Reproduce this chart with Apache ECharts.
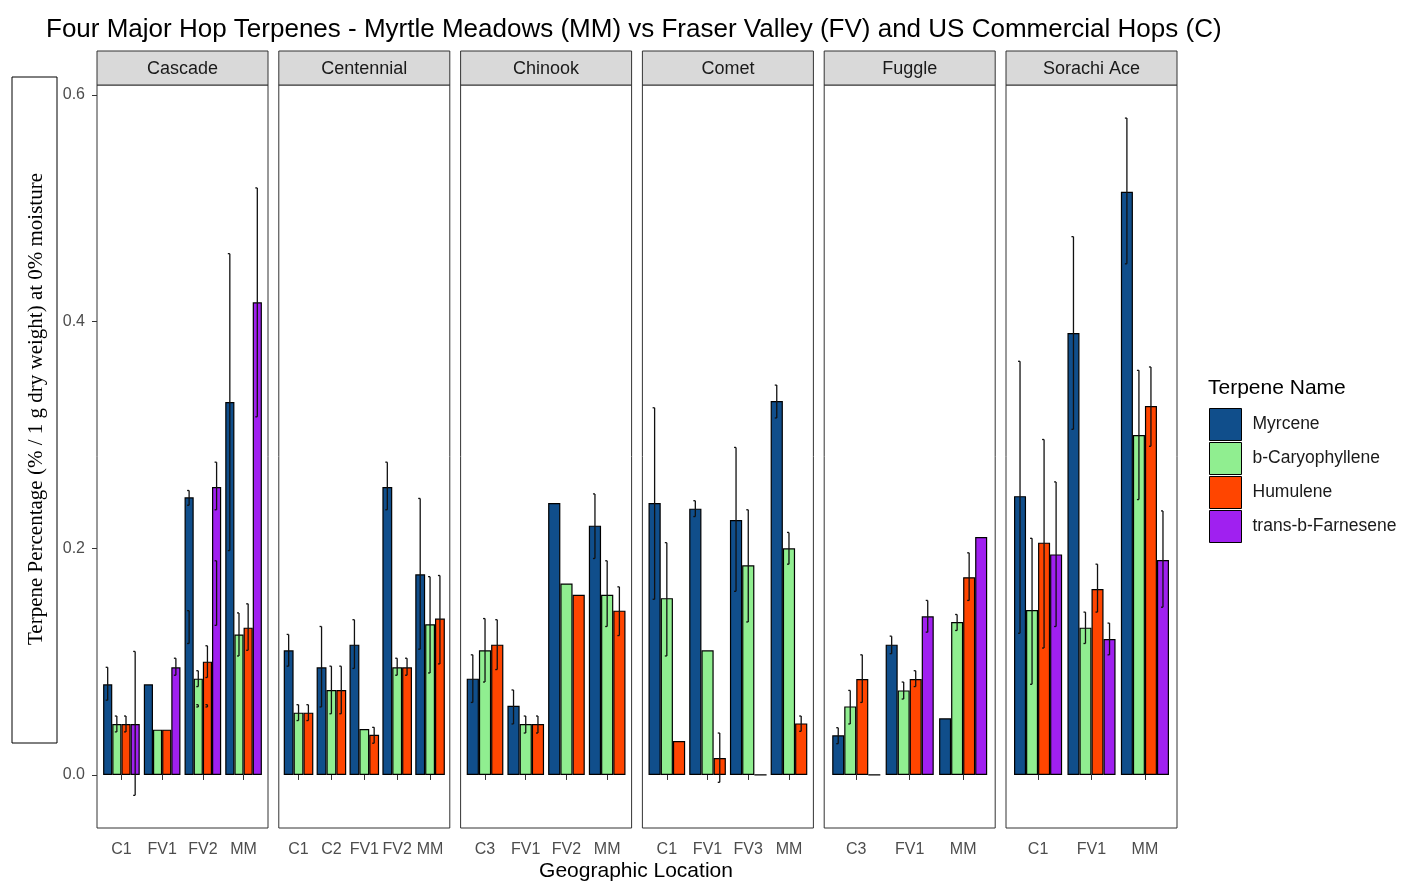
<!DOCTYPE html>
<html><head><meta charset="utf-8">
<script src="https://cdn.jsdelivr.net/npm/echarts@6/dist/echarts.min.js"></script>
<style>html,body{margin:0;padding:0;background:#fff}#c{width:1403px;height:882px}</style>
</head><body><div id="c"></div>
<script>
// ---------- DATA ----------
const terpenes = ['Myrcene', 'b-Caryophyllene', 'Humulene', 'trans-b-Farnesene'];
const yTickValues = [0, 0.2, 0.4, 0.6];

// error rows: [categoryIndex, terpeneIndex, low, high]
const cascadeCats = ['C1', 'FV1', 'FV2', 'MM'];
const cascadeMyrcene = [0.080, 0.080, 0.245, 0.329];
const cascadeCaryophyllene = [0.045, 0.040, 0.085, 0.124];
const cascadeHumulene = [0.045, 0.040, 0.100, 0.130];
const cascadeFarnesene = [0.045, 0.095, 0.254, 0.417];
const cascadeErr = [[0,0,0.066,0.095],[0,1,0.038,0.052],[0,2,0.038,0.052],[0,3,-0.018,0.109],
  [1,3,0.088,0.103],[2,0,0.238,0.251],[2,0,0.116,0.145],[2,1,0.078,0.092],[2,1,0.060,0.062],
  [2,2,0.086,0.114],[2,2,0.060,0.062],[2,3,0.234,0.276],[2,3,0.132,0.189],
  [3,0,0.198,0.460],[3,1,0.105,0.143],[3,2,0.110,0.151],[3,3,0.316,0.518]];

const centennialCats = ['C1', 'C2', 'FV1', 'FV2', 'MM'];
const centennialMyrcene = [0.110, 0.095, 0.115, 0.254, 0.177];
const centennialCaryophyllene = [0.055, 0.075, 0.0405, 0.095, 0.133];
const centennialHumulene = [0.055, 0.075, 0.0355, 0.095, 0.138];
const centennialErr = [[0,0,0.096,0.124],[0,1,0.048,0.062],[0,2,0.048,0.062],[1,0,0.060,0.131],
  [1,1,0.054,0.096],[1,2,0.054,0.096],[2,0,0.094,0.137],[2,2,0.028,0.042],[3,0,0.234,0.276],
  [3,1,0.088,0.103],[3,2,0.088,0.103],[4,0,0.111,0.244],[4,1,0.090,0.175],[4,2,0.098,0.176]];

const chinookCats = ['C3', 'FV1', 'FV2', 'MM'];
const chinookMyrcene = [0.085, 0.061, 0.240, 0.220];
const chinookCaryophyllene = [0.110, 0.045, 0.169, 0.159];
const chinookHumulene = [0.115, 0.045, 0.159, 0.145];
const chinookErr = [[0,0,0.064,0.106],[0,1,0.082,0.138],[0,2,0.093,0.137],[1,0,0.045,0.075],
  [1,1,0.037,0.052],[1,2,0.037,0.052],[3,0,0.191,0.248],[3,1,0.131,0.189],[3,2,0.123,0.166]];

const cometCats = ['C1', 'FV1', 'FV3', 'MM'];
const cometMyrcene = [0.240, 0.235, 0.225, 0.330];
const cometCaryophyllene = [0.156, 0.110, 0.185, 0.200];
const cometHumulene = [0.030, 0.015, 0, 0.0455];
const cometErr = [[0,0,0.155,0.324],[0,1,0.105,0.205],[1,0,0.228,0.242],[1,2,-0.0065,0.037],
  [2,0,0.162,0.289],[2,1,0.135,0.234],[3,0,0.315,0.344],[3,1,0.186,0.214],[3,2,0.0385,0.052]];

const fuggleCats = ['C3', 'FV1', 'MM'];
const fuggleMyrcene = [0.035, 0.115, 0.050];
const fuggleCaryophyllene = [0.0605, 0.0746, 0.135];
const fuggleHumulene = [0.0846, 0.0846, 0.1745];
const fuggleFarnesene = [0, 0.140, 0.210];
const fuggleErr = [[0,0,0.0276,0.0417],[0,1,0.045,0.0746],[0,2,0.064,0.106],[1,0,0.107,0.1225],
  [1,1,0.067,0.082],[1,2,0.078,0.092],[1,3,0.126,0.154],[2,1,0.1275,0.1416],[2,2,0.154,0.196]];

const sorachiCats = ['C1', 'FV1', 'MM'];
const sorachiMyrcene = [0.246, 0.390, 0.5145];
const sorachiCaryophyllene = [0.1456, 0.130, 0.300];
const sorachiHumulene = [0.205, 0.164, 0.3256];
const sorachiFarnesene = [0.1946, 0.120, 0.1896];
const sorachiErr = [[0,0,0.125,0.365],[0,1,0.080,0.2088],[0,2,0.112,0.296],[0,3,0.131,0.2586],
  [1,0,0.305,0.475],[1,1,0.116,0.1437],[1,2,0.1437,0.186],[1,3,0.106,0.134],
  [2,0,0.451,0.5796],[2,1,0.243,0.357],[2,2,0.290,0.360],[2,3,0.148,0.233]];

// ---------- TABLE BUILT FROM THE ARRAYS ----------
const facets = [
  { name: 'Cascade', cats: cascadeCats, vals: [cascadeMyrcene, cascadeCaryophyllene, cascadeHumulene, cascadeFarnesene], err: cascadeErr },
  { name: 'Centennial', cats: centennialCats, vals: [centennialMyrcene, centennialCaryophyllene, centennialHumulene], err: centennialErr },
  { name: 'Chinook', cats: chinookCats, vals: [chinookMyrcene, chinookCaryophyllene, chinookHumulene], err: chinookErr },
  { name: 'Comet', cats: cometCats, vals: [cometMyrcene, cometCaryophyllene, cometHumulene], err: cometErr },
  { name: 'Fuggle', cats: fuggleCats, vals: [fuggleMyrcene, fuggleCaryophyllene, fuggleHumulene, fuggleFarnesene], err: fuggleErr },
  { name: 'Sorachi Ace', cats: sorachiCats, vals: [sorachiMyrcene, sorachiCaryophyllene, sorachiHumulene, sorachiFarnesene], err: sorachiErr }
];

// ---------- STYLE / LAYOUT ----------
const palette = ['#104E8B', '#90EE90', '#FF4500', '#A020F0'];
const SANS = '"Liberation Sans", Arial, sans-serif';
const SERIF = '"Liberation Serif", "Times New Roman", serif';
const P_LEFT0 = 97, P_STEP = 181.8, P_W = 171, P_TOP = 85, P_H = 743;
const STRIP_TOP = 51, STRIP_H = 34;
const Y_MIN = -0.0468, Y_MAX = 0.6088;
const BORDER = '#333333';

const grids = [], xAxes = [], yAxes = [], series = [], graphics = [];

facets.forEach((f, i) => {
  const pl = P_LEFT0 + i * P_STEP;
  const n = f.cats.length;
  const s = P_W / (n + 0.2);
  const inset = 0.1 * s;
  grids.push({ left: pl + inset, top: P_TOP, width: P_W - 2 * inset, height: P_H, containLabel: false });
  xAxes.push({
    gridIndex: i, type: 'category', data: f.cats,
    axisLine: { show: false },
    axisTick: { show: true, alignWithLabel: true, length: 5, lineStyle: { color: BORDER } },
    axisLabel: { color: '#4d4d4d', fontSize: 16, fontFamily: SANS, margin: 14, interval: 0 },
    splitLine: { show: false }
  });
  const y = {
    gridIndex: i, type: 'value', min: Y_MIN, max: Y_MAX,
    splitLine: { show: false }, axisLine: { show: false }
  };
  if (i === 0) {
    y.offset = inset;
    y.axisTick = { show: true, length: 5, customValues: yTickValues, lineStyle: { color: BORDER } };
    y.axisLabel = { show: true, customValues: yTickValues, color: '#4d4d4d', fontSize: 16, fontFamily: SANS, margin: 12,
      formatter: v => v.toFixed(1) };
  } else {
    y.axisTick = { show: false };
    y.axisLabel = { show: false };
  }
  yAxes.push(y);

  const k = f.vals.length;
  f.vals.forEach((arr, j) => {
    series.push({
      type: 'bar', name: terpenes[j], xAxisIndex: i, yAxisIndex: i, data: arr,
      barGap: '0%', barCategoryGap: '10%',
      itemStyle: { color: palette[j], borderColor: '#000', borderWidth: 1.2 },
      emphasis: { disabled: true }, silent: true, animation: false
    });
  });
  series.push({
    type: 'custom', xAxisIndex: i, yAxisIndex: i, data: f.err, z: 10, silent: true, animation: false,
    encode: { x: 0, y: [2, 3] },
    renderItem: (params, api) => {
      const cat = api.value(0), j = api.value(1), lo = api.value(2), hi = api.value(3);
      const band = api.size([1, 0])[0];
      const groupW = band * 0.9, bw = groupW / k;
      const cx = api.coord([cat, 0])[0] - groupW / 2 + (j + 0.5) * bw;
      const y1 = api.coord([cat, hi])[1], y2 = api.coord([cat, lo])[1];
      const st = { stroke: '#111', lineWidth: 1.3 };
      return { type: 'group', children: [
        { type: 'line', shape: { x1: cx, y1: y1, x2: cx, y2: y2 }, style: st },
        { type: 'line', shape: { x1: cx - 2, y1: y1, x2: cx, y2: y1 }, style: st },
        { type: 'line', shape: { x1: cx - 2, y1: y2, x2: cx, y2: y2 }, style: st }
      ] };
    }
  });

  // panel border and strip
  graphics.push({ type: 'rect', z: 100, shape: { x: pl, y: P_TOP, width: P_W, height: P_H },
    style: { fill: 'none', stroke: BORDER, lineWidth: 1 }, silent: true });
  graphics.push({ type: 'rect', z: 100, shape: { x: pl, y: STRIP_TOP, width: P_W, height: STRIP_H },
    style: { fill: '#d9d9d9', stroke: BORDER, lineWidth: 1 }, silent: true });
  graphics.push({ type: 'text', z: 101, x: pl + P_W / 2, y: STRIP_TOP + STRIP_H / 2 + 1,
    style: { text: f.name, font: '18px ' + SANS, fill: '#1a1a1a', textAlign: 'center', textVerticalAlign: 'middle' }, silent: true });
});

// axis titles, y-title box, legend title
graphics.push({ type: 'rect', shape: { x: 12, y: 77, width: 45, height: 666 },
  style: { fill: 'none', stroke: '#000', lineWidth: 1 }, silent: true });
graphics.push({ type: 'text', x: 36, y: 409, rotation: Math.PI / 2,
  style: { text: 'Terpene Percentage (% / 1 g dry weight) at 0% moisture', font: '21px ' + SERIF, fill: '#000',
    textAlign: 'center', textVerticalAlign: 'middle' }, silent: true });
graphics.push({ type: 'text', x: 636, y: 871,
  style: { text: 'Geographic Location', font: '21px ' + SANS, fill: '#000', textAlign: 'center', textVerticalAlign: 'middle' }, silent: true });
graphics.push({ type: 'text', x: 1208, y: 388,
  style: { text: 'Terpene Name', font: '21px ' + SANS, fill: '#000', textAlign: 'left', textVerticalAlign: 'middle' }, silent: true });

const chart = echarts.init(document.getElementById('c'), null, { renderer: 'canvas' });
chart.setOption({
  animation: false,
  backgroundColor: '#ffffff',
  title: {
    text: 'Four Major Hop Terpenes - Myrtle Meadows (MM) vs Fraser Valley (FV) and US Commercial Hops (C)',
    left: 41, top: 12,
    textStyle: { fontSize: 26, fontWeight: 'normal', color: '#000', fontFamily: SANS }
  },
  legend: {
    orient: 'vertical', left: 1209, top: 408, padding: 0, itemWidth: 32, itemHeight: 32, itemGap: 1,
    icon: 'rect', selectedMode: false, data: terpenes,
    itemStyle: { borderColor: '#000', borderWidth: 1 },
    textStyle: { fontSize: 17.5, color: '#1a1a1a', fontFamily: SANS, padding: [0, 0, 0, 6] }
  },
  grid: grids, xAxis: xAxes, yAxis: yAxes, series: series, graphic: graphics
});
</script></body></html>
